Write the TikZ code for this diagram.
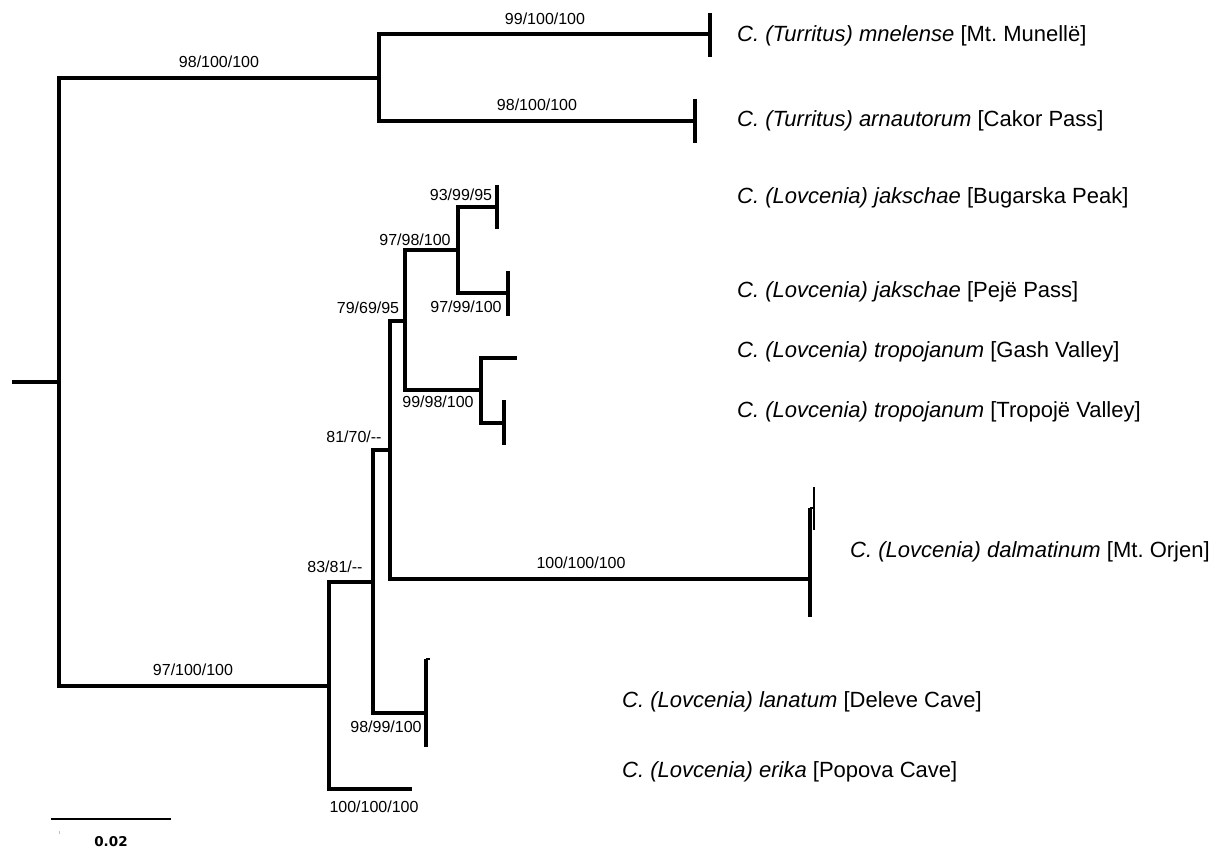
\documentclass[tikz,border=0pt]{standalone}
\usepackage{fontspec}
\setmainfont{Liberation Sans}
\newfontfamily\barfont{DejaVu Sans}
\usetikzlibrary{calc}

\tikzset{
  branch/.style={line width=3.4pt,line cap=butt,line join=miter},
  support/.style={font=\fontsize{16}{19}\selectfont,inner sep=0pt},
  taxon/.style={font=\fontsize{22}{26}\selectfont,anchor=base west,inner sep=0pt}
}

\begin{document}
\begin{tikzpicture}[x=1pt,y=-1pt]
      \useasboundingbox (0,0) rectangle (1228,850);
      % inner nodes (x of the split, middle of the children)
      \coordinate (stem) at (12,382);
      \coordinate (rt) at (59,382);
      \coordinate (turr) at (379,78);
      \coordinate (lov) at (329,686);
      \coordinate (n83) at (373,582);
      \coordinate (n81) at (390,450);
      \coordinate (n79) at (405,321);
      \coordinate (n97) at (458,250);
      \coordinate (n99) at (481,390);
      % tips
      \coordinate (mne) at (710,34);
      \coordinate (arn) at (695,121);
      \coordinate (jakB) at (497,207);
      \coordinate (jakP) at (508,293);
      \coordinate (gash) at (517,358);
      \coordinate (trop) at (504,423);
      \coordinate (dal) at (810,579);
      \coordinate (lan) at (426,713);
      \coordinate (eri) at (412,789);
      \draw[branch] (stem) -- (rt);
      \foreach \a/\b in {rt/turr,rt/lov,turr/mne,turr/arn,lov/n83,lov/eri,n83/n81,n83/lan,
                         n81/n79,n81/dal,n79/n97,n79/n99,n97/jakB,n97/jakP,n99/gash,n99/trop}{
        \draw[branch] (\a) |- (\b);
      }
      % bars at the tips
      \foreach \t/\up/\dn in {mne/21/23,arn/22/22,jakB/22/22,jakP/22/23,trop/23/22,dal/71/38,lan/54/34}{
        \draw[branch,line width=3.2pt] ($(\t)+(0,-\up)$) -- ($(\t)+(0,\dn)$);
      }
      \draw[branch,line width=2.4pt] ($(dal)+(0,-71)$) -| ($(dal)+(4,-92)$);
      \draw[branch,line width=2.4pt] ($(dal)+(4,-92)$) -- ($(dal)+(4,-49)$);
      \draw[branch,line width=2.4pt] ($(lan)+(0,-54)$) -- ($(lan)+(4,-54)$);
      % support values
      \foreach \n/\x/\y/\val in {s1/219/62/{98/100/100},s2/545/19/{99/100/100},s3/537/105/{98/100/100},
          s4/461/195/{93/99/95},s5/415/240/{97/98/100},s6/466/307/{97/99/100},s7/368/308/{79/69/95},
          s8/438/402/{99/98/100},s9/354/437/{81/70/{-}{-}},s10/335/567/{83/81/{-}{-}},
          s11/581/563/{100/100/100},s12/193/670/{97/100/100},s13/386/727/{98/99/100},s14/374/807/{100/100/100}}{
        \node[support] (\n) at (\x,\y) {\val};
      }
      % taxa
      \node[taxon] (tmne) at (737,42) {\textit{C. (Turritus) mnelense} [Mt.\ Munellë]};
      \node[taxon] (tarn) at (737,127) {\textit{C. (Turritus) arnautorum} [Cakor Pass]};
      \node[taxon] (tjakB) at (737,204) {\textit{C. (Lovcenia) jakschae} [Bugarska Peak]};
      \node[taxon] (tjakP) at (737,297) {\textit{C. (Lovcenia) jakschae} [Pejë Pass]};
      \node[taxon] (tgash) at (737,357) {\textit{C. (Lovcenia) tropojanum} [Gash Valley]};
      \node[taxon] (ttrop) at (737,417) {\textit{C. (Lovcenia) tropojanum} [Tropojë Valley]};
      \node[taxon] (tdal) at (850,557) {\textit{C. (Lovcenia) dalmatinum} [Mt.\ Orjen]};
      \node[taxon] (tlan) at (622,707) {\textit{C. (Lovcenia) lanatum} [Deleve Cave]};
      \node[taxon] (teri) at (622,777) {\textit{C. (Lovcenia) erika} [Popova Cave]};
      % scale
      \coordinate (sbL) at (51,819);
      \coordinate (sbR) at (171,819);
      \draw[line width=2.8pt] (sbL) -- (sbR);
      \draw[gray!50,line width=0.8pt] (59,831) -- (59,834);
      \node[font=\barfont\bfseries\fontsize{13.5}{15}\selectfont,inner sep=0pt] (sblab) at (111,842) {0.02};
\end{tikzpicture}
\end{document}
